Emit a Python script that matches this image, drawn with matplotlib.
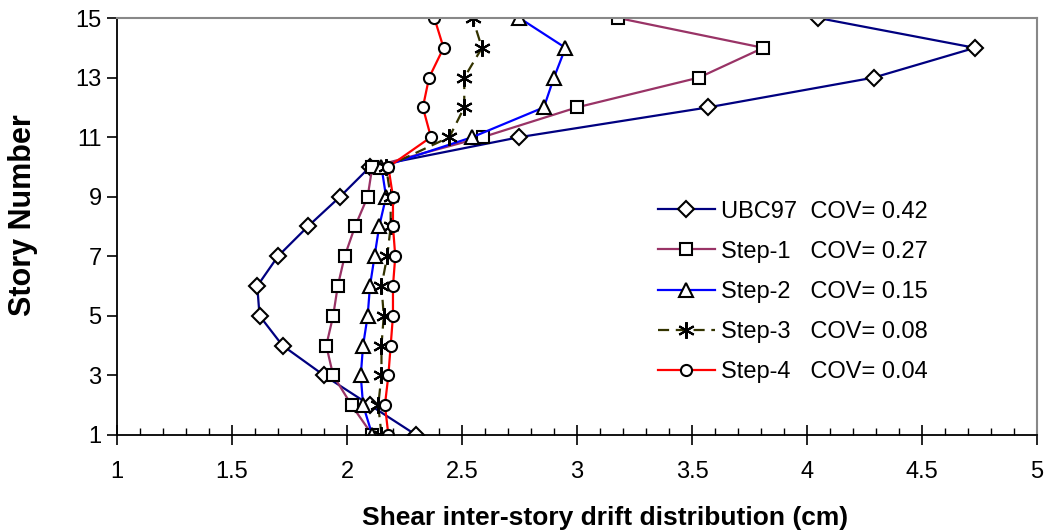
import matplotlib
matplotlib.use("Agg")
import matplotlib.pyplot as plt
from matplotlib.ticker import MultipleLocator

plt.rcParams['font.family'] = ['Liberation Sans', 'DejaVu Sans']

# Story numbers and drift values (cm) for each design step
stories = [1, 2, 3, 4, 5, 6, 7, 8, 9, 10, 11, 12, 13, 14, 15]
ubc97 = [2.30, 2.10, 1.90, 1.72, 1.62, 1.61, 1.70, 1.83, 1.97, 2.10, 2.75, 3.57, 4.29, 4.73, 4.05]
step1 = [2.11, 2.02, 1.94, 1.91, 1.94, 1.96, 1.99, 2.035, 2.09, 2.11, 2.59, 3.00, 3.53, 3.81, 3.18]
step2 = [2.11, 2.07, 2.06, 2.07, 2.09, 2.10, 2.12, 2.14, 2.17, 2.15, 2.545, 2.856, 2.90, 2.95, 2.75]
step3 = [2.15, 2.136, 2.15, 2.15, 2.16, 2.15, 2.175, 2.19, 2.19, 2.17, 2.445, 2.51, 2.51, 2.587, 2.546]
step4 = [2.18, 2.165, 2.18, 2.19, 2.20, 2.20, 2.21, 2.20, 2.20, 2.18, 2.365, 2.33, 2.357, 2.42, 2.38]

labels = ["UBC97  COV= 0.42", "Step-1   COV= 0.27", "Step-2   COV= 0.15",
          "Step-3   COV= 0.08", "Step-4   COV= 0.04"]
xticks = [1, 1.5, 2, 2.5, 3, 3.5, 4, 4.5, 5]
yticks = [1, 3, 5, 7, 9, 11, 13, 15]

fig = plt.figure(figsize=(10.48, 5.31), dpi=100)
ax = fig.add_axes([0.1116, 0.181, 0.8779, 0.785])

mk = dict(markerfacecolor="white", markeredgecolor="black", markeredgewidth=1.5)
ax.plot(ubc97, stories, color="#000080", lw=1.6, marker="D", ms=8, label=labels[0], **mk)
ax.plot(step1, stories, color="#993366", lw=1.6, marker="s", ms=8.5, label=labels[1], **mk)
ax.plot(step2, stories, color="#0000FF", lw=1.6, marker="^", ms=10, label=labels[2], **mk)
ax.plot(step3, stories, color="#333300", lw=1.6, ls=(0, (5, 3)), marker=(6, 2, 0), ms=12,
        label=labels[3], **mk)
ax.plot(step4, stories, color="#FF0000", lw=1.6, marker="o", ms=8, label=labels[4], **mk)

ax.set_xlim(1, 5)
ax.set_ylim(1, 15)
ax.set_xticks(xticks)
ax.set_xticklabels([f"{t:g}" for t in xticks])
ax.xaxis.set_minor_locator(MultipleLocator(0.1))
ax.set_yticks(yticks)

ax.tick_params(axis="x", which="major", direction="inout", length=14, width=1.2,
               labelsize=17, pad=12)
ax.tick_params(axis="x", which="minor", direction="in", length=5, width=1.0)
ax.tick_params(axis="y", which="major", direction="out", length=7, width=1.2,
               labelsize=17, pad=4)

for s in ["top", "right"]:
    ax.spines[s].set_color("#888888")
    ax.spines[s].set_linewidth(1.5)
for s in ["left", "bottom"]:
    ax.spines[s].set_color("black")
    ax.spines[s].set_linewidth(1.3)

ax.set_xlabel("Shear inter-story drift distribution (cm)", fontsize=19, fontweight="bold")
ax.set_ylabel("Story Number", fontsize=22, fontweight="bold")
ax.xaxis.label.set_va("center")
ax.yaxis.label.set_va("center")
ax.xaxis.set_label_coords(0.531, -0.199)
ax.yaxis.set_label_coords(-0.102, 0.527)

ax.legend(loc="center left", bbox_to_anchor=(0.588, 0.343), frameon=False,
          fontsize=17, handlelength=2.4, handletextpad=0.25, labelspacing=0.77,
          borderpad=0, borderaxespad=0)

fig.savefig("out.png", dpi=100)
